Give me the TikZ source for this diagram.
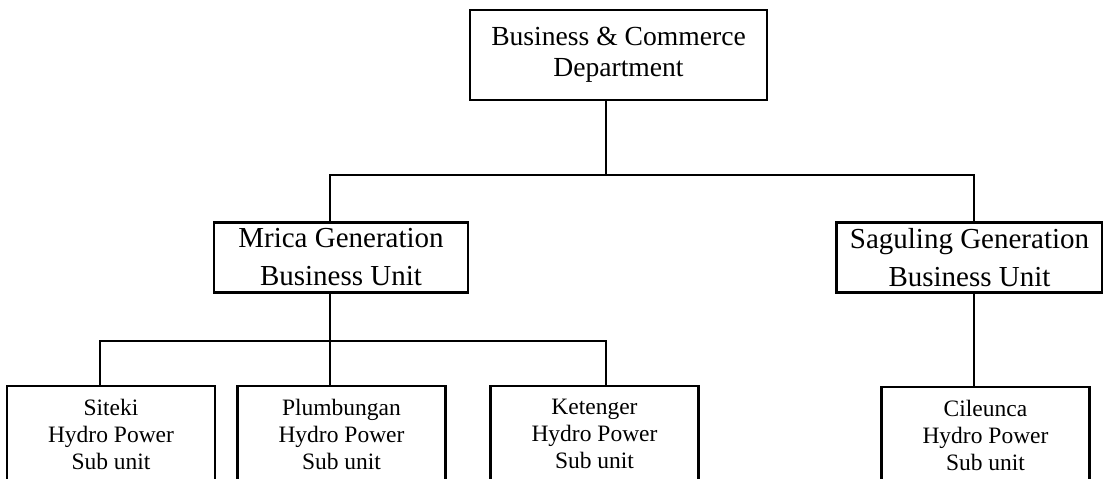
\documentclass[tikz,border=0pt]{standalone}
\usepackage{fontspec}
\setmainfont{Liberation Serif}
\usepackage{tikz}

\begin{document}
\begin{tikzpicture}[
    x=0.5pt,
    y=-0.5pt,
    kotak/.style={
        rectangle,
        draw,
        line width=1.1pt,
        align=center,
        inner sep=0pt
    },
    dept/.style={
        kotak,
        minimum width=148.5pt,
        minimum height=45pt,
        font=\fontsize{13.8}{15.5}\selectfont
    },
    unit/.style={
        kotak,
        minimum height=35pt,
        font=\fontsize{14.5}{19}\selectfont
    },
    subunit/.style={
        kotak,
        minimum width=104pt,
        minimum height=48pt,
        font=\fontsize{11.75}{13.5}\selectfont
    },
    garis/.style={
        line width=1.1pt
    }
]

\clip (0,0) rectangle (1103,478);

\node[dept] (dept) at (618.5,55) {Business \& Commerce\\Department};

\node[unit, minimum width=127pt] (mrica) at (341,257.5) {Mrica Generation\\Business Unit};
\node[unit, minimum width=133pt] (saguling) at (969.5,257.5) {Saguling Generation\\Business Unit};

\node[subunit] (siteki) at (111,434) {Siteki\\Hydro Power\\Sub unit};
\node[subunit] (plumbungan) at (341.5,434) {Plumbungan\\Hydro Power\\Sub unit};
\node[subunit] (ketenger) at (594.5,434) {Ketenger\\Hydro Power\\Sub unit};
\node[subunit] (cileunca) at (985.5,435) {Cileunca\\Hydro Power\\Sub unit};

% garis penghubung
\coordinate (bus1l) at (330,175);
\coordinate (bus1m) at (606,175);
\coordinate (bus1r) at (974,175);
\coordinate (bus2l) at (100,341);
\coordinate (bus2m) at (330,341);
\coordinate (bus2r) at (606,341);

\draw[garis] (dept.south -| bus1m) -- (bus1m);
\draw[garis] (mrica.north -| bus1l) -- (bus1l) -- (bus1r) -- (saguling.north -| bus1r);

\draw[garis] (mrica.south -| bus2m) -- (bus2m);
\draw[garis] (siteki.north -| bus2l) -- (bus2l) -- (bus2r) -- (ketenger.north -| bus2r);
\draw[garis] (bus2m) -- (plumbungan.north -| bus2m);

\draw[garis] (saguling.south -| bus1r) -- (cileunca.north -| bus1r);

\end{tikzpicture}
\end{document}
